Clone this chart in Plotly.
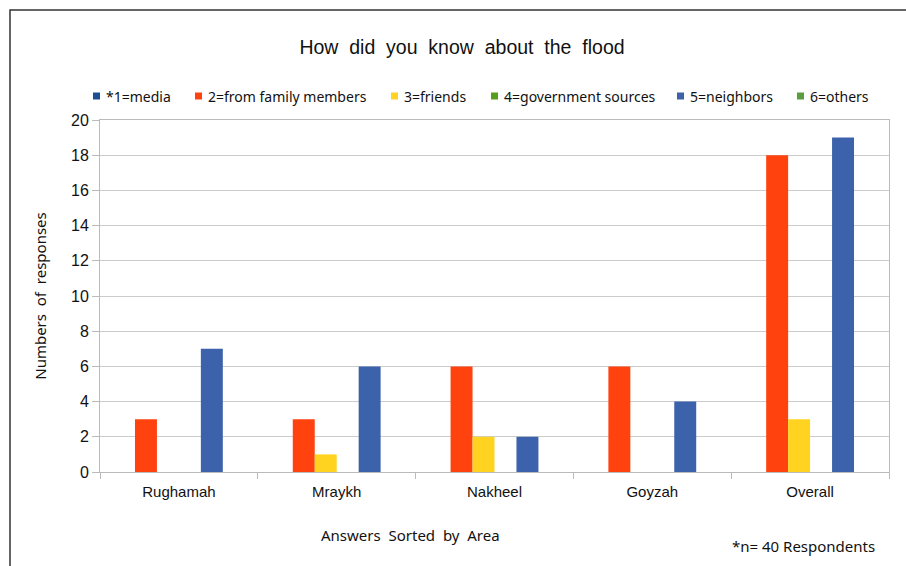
import plotly.graph_objects as go

areas = ["Rughamah", "Mraykh", "Nakheel", "Goyzah", "Overall"]
series_names = ["*1=media", "2=from family members", "3=friends",
                "4=government sources", "5=neighbors", "6=others"]
media = [0, 0, 0, 0, 0]
family = [3, 3, 6, 6, 18]
friends = [0, 1, 2, 0, 3]
government = [0, 0, 0, 0, 0]
neighbors = [7, 6, 2, 4, 19]
others = [0, 0, 0, 0, 0]
colors = ["#1B4F8F", "#FF420E", "#FFD320", "#579D1C", "#3B62AB", "#5B9E3F"]
y_ticks = [0, 2, 4, 6, 8, 10, 12, 14, 16, 18, 20]

# legend layout (pixel x of each legend square)
legend_px = [93, 195, 391, 491, 677, 797]

fig = go.Figure()
for name, vals, c in zip(series_names, [media, family, friends, government, neighbors, others], colors):
    fig.add_trace(go.Bar(x=areas, y=vals, name=name, showlegend=False,
                         marker=dict(color=c, line=dict(width=0))))

W, H = 906, 566
L, R, T, B = 100, 17, 120, 94
pw, ph = W - L - R, H - T - B

def px(x):
    return (x - L) / pw

def py(y):
    return (H - B - y) / ph

shapes = [dict(type="rect", xref="paper", yref="paper",
               x0=px(10), x1=px(960), y0=py(640), y1=py(10),
               line=dict(color="#333333", width=1.5), fillcolor="rgba(0,0,0,0)", layer="above")]
annotations = [
    dict(text="Answers  Sorted  by  Area", xref="paper", yref="paper", x=px(410), y=py(535),
         xanchor="center", yanchor="middle", showarrow=False,
         font=dict(family="Noto Sans", size=15, color="#111")),
    dict(text="*n= 40 Respondents", xref="paper", yref="paper", x=px(803), y=py(546),
         xanchor="center", yanchor="middle", showarrow=False,
         font=dict(family="Noto Sans", size=15, color="#111")),
]
ly = 96
for name, c, lx in zip(series_names, colors, legend_px):
    shapes.append(dict(type="rect", xref="paper", yref="paper",
                       x0=px(lx), x1=px(lx + 7), y0=py(ly + 3.5), y1=py(ly - 3.5),
                       line=dict(width=0), fillcolor=c, layer="above"))
    annotations.append(dict(text=name, xref="paper", yref="paper", x=px(lx + 11), y=py(ly),
                            xanchor="left", yanchor="middle", showarrow=False,
                            font=dict(family="Noto Sans", size=14, color="#111")))

fig.update_layout(
    width=W, height=H,
    margin=dict(l=L, r=R, t=T, b=B),
    paper_bgcolor="white", plot_bgcolor="white",
    barmode="group", bargap=0.165, bargroupgap=0,
    font=dict(family="Liberation Sans, Arial", size=14, color="#222"),
    title=dict(text="How  did  you  know  about  the  flood", xref="paper", x=px(462), xanchor="center",
               y=1 - 47 / H, yanchor="middle",
               font=dict(family="Liberation Sans", size=19.5, color="#111")),
    showlegend=False,
    xaxis=dict(type="category", showline=True, linecolor="#BBBBBB", linewidth=1, mirror=True,
               ticks="outside", tickson="boundaries", ticklen=6, tickcolor="#BBBBBB",
               ticklabelstandoff=6,
               showgrid=False, tickfont=dict(family="Liberation Sans", size=15, color="#111")),
    yaxis=dict(range=[0, 20], tickvals=y_ticks, showline=True, linecolor="#BBBBBB", mirror=True,
               ticks="outside", ticklen=7, tickcolor="#BBBBBB",
               showgrid=True, gridcolor="#CCCCCC", gridwidth=1, zeroline=False,
               tickfont=dict(family="Liberation Sans", size=16, color="#111"),
               title=dict(text="Numbers  of  responses", standoff=20,
                          font=dict(family="Noto Sans", size=15, color="#111"))),
    shapes=shapes,
    annotations=annotations,
)

fig.write_html("out.html")
